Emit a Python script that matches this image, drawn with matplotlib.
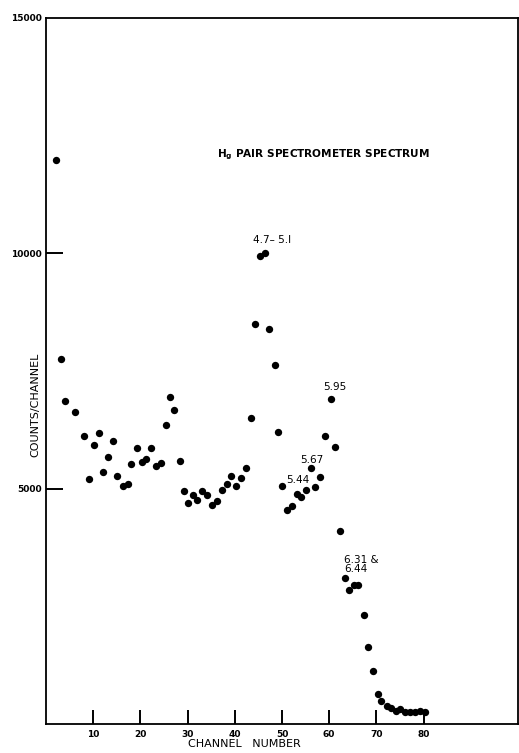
import matplotlib
matplotlib.use('Agg')
import matplotlib.pyplot as plt

# channel numbers and counts per channel
channels = [2.1, 3.1, 4.0, 6.1, 8.1, 9.2, 10.1, 11.2, 12.1, 13.2, 14.2, 15.1, 16.3, 17.3,
            18.1, 19.2, 20.3, 21.2, 22.2, 23.3, 24.4, 25.4, 26.3, 27.2, 28.3, 29.2, 30.1,
            31.2, 32.1, 33.1, 34.2, 35.2, 36.3, 37.2, 38.3, 39.3, 40.3, 41.3, 42.3, 43.4,
            44.3, 45.4, 46.5, 47.3, 48.6, 49.2, 50.1, 51.1, 52.2, 53.1, 54.1, 55.1, 56.1,
            57.1, 58.1, 59.2, 60.4, 61.3, 62.4, 63.3, 64.3, 65.3, 66.2, 67.4, 68.2, 69.3,
            70.3, 71.0, 72.2, 73.2, 74.2, 75.1, 76.1, 77.1, 78.1, 79.2, 80.2]
counts = [11980, 7745, 6870, 6620, 6110, 5205, 5935, 6190, 5350, 5665, 6015, 5270, 5065, 5105,
          5530, 5865, 5565, 5625, 5865, 5475, 5555, 6345, 6945, 6680, 5595, 4945, 4695,
          4865, 4750, 4945, 4860, 4660, 4740, 4965, 5090, 5260, 5050, 5225, 5435, 6505,
          8505, 9935, 10015, 8400, 7625, 6200, 5065, 4540, 4640, 4895, 4825, 4970, 5435,
          5035, 5240, 6115, 6910, 5895, 4100, 3105, 2845, 2955, 2955, 2320, 1630, 1120,
          640, 485, 390, 345, 285, 320, 255, 250, 250, 275, 250]

x_ticks = [10, 20, 30, 40, 50, 60, 70, 80]
y_ticks = [5000, 10000, 15000]

# peak labels: (text, channel, count)
peak_labels = [('4.7– 5.I', 47.9, 10280),
               ('5.95', 61.1, 7160),
               ('5.67', 56.4, 5600),
               ('5.44', 53.4, 5190),
               ('6.31 &\n6.44', 63.2, 3390)]

plt.rcParams['font.family'] = ['DejaVu Sans']

fig = plt.figure(figsize=(5.19, 7.53), dpi=100)
ax = fig.add_axes([0.0886, 0.0385, 0.9094, 0.9376])

ax.scatter(channels, counts, s=28, color='black', zorder=3, linewidths=0)

ax.set_xlim(0, 100)
ax.set_ylim(0, 15000)

ax.set_xticks(x_ticks)
ax.set_xticklabels([str(t) for t in x_ticks], fontsize=6.5, fontweight='bold')
ax.set_yticks(y_ticks)
ax.set_yticklabels(['5000', '10000', '15000'], fontsize=6.5, fontweight='bold')
ax.tick_params(axis='x', direction='in', length=10, width=1.4, pad=4)
ax.tick_params(axis='y', direction='in', length=12, width=1.4, pad=3)
ax.yaxis.get_major_ticks()[-1].tick1line.set_visible(False)

for spine in ax.spines.values():
    spine.set_linewidth(1.3)

for text, cx, cy in peak_labels:
    if '\n' in text:
        ax.text(cx, cy, text, fontsize=7.5, ha='left', va='center', linespacing=0.95)
    else:
        ax.text(cx, cy, text, fontsize=7.5, ha='center', va='center')

ax.text(58.7, 12090, r'H$_{\mathregular{g}}$ PAIR SPECTROMETER SPECTRUM',
        fontsize=7.6, fontweight='bold', ha='center', va='center')

fig.text(0.068, 0.462, 'COUNTS/CHANNEL', rotation=90, fontsize=8,
         ha='center', va='center')
fig.text(0.470, 0.012, 'CHANNEL   NUMBER', fontsize=8, ha='center', va='center')

fig.savefig('out.png', dpi=100)
